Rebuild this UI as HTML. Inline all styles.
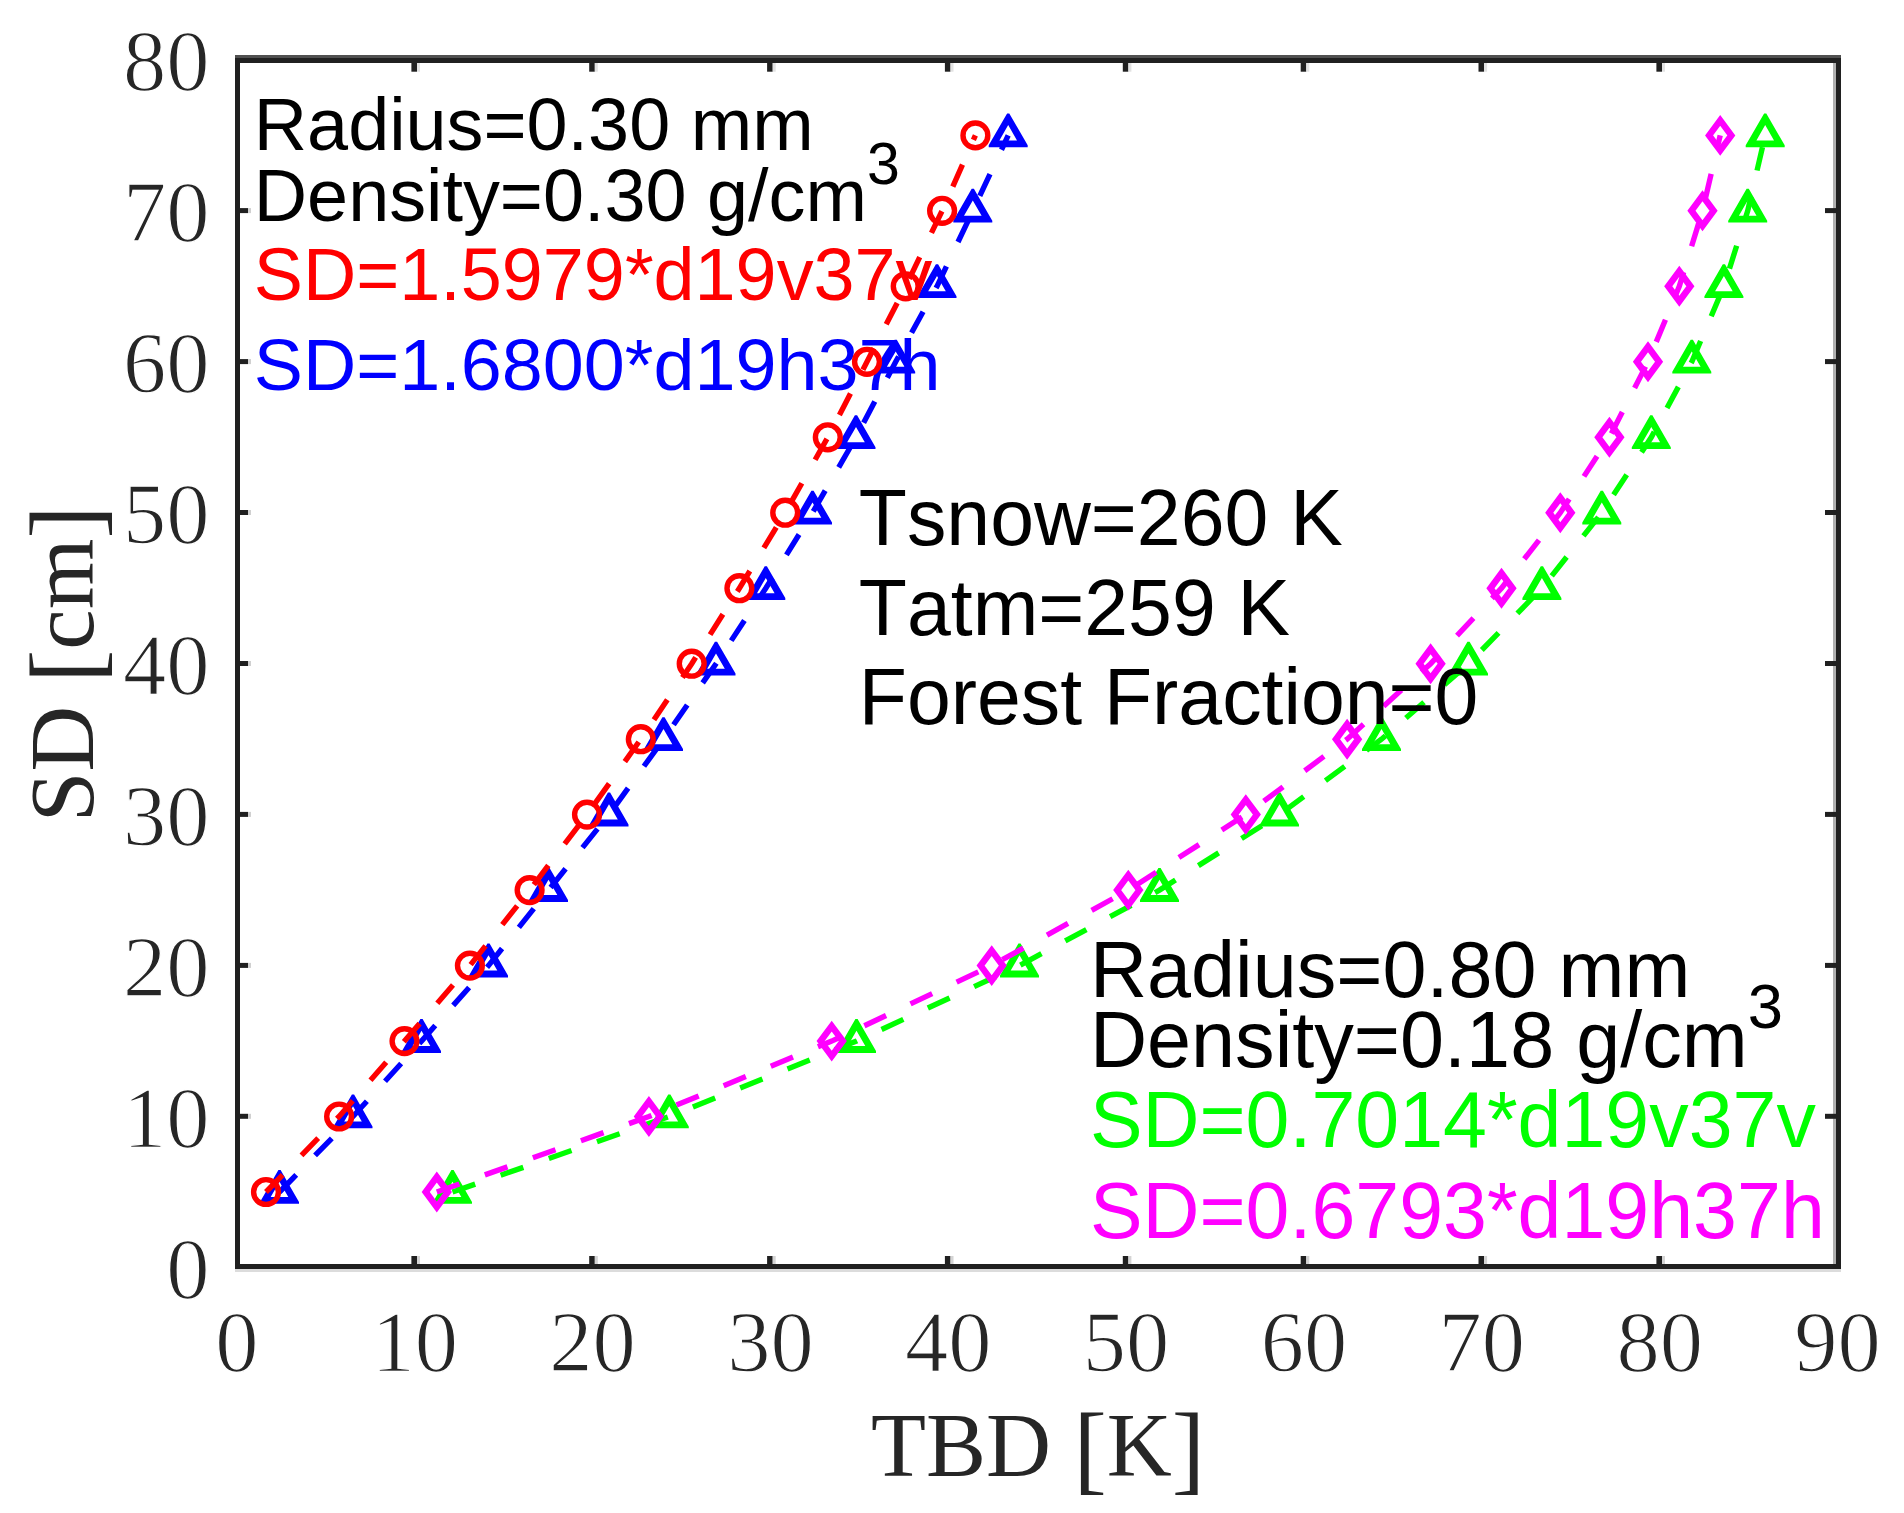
<!DOCTYPE html>
<html lang="en"><head><meta charset="utf-8"><title>SD vs TBD</title>
<style>html,body{margin:0;padding:0;background:#fff}svg{display:block}.tk{font-family:"Liberation Serif",serif;font-size:86.5px;fill:#262626;font-kerning:none;stroke:#fff;stroke-width:1.3px}.lb{font-family:"Liberation Serif",serif;font-size:91.67px;fill:#262626;font-kerning:none}.a{font-family:"Liberation Sans",sans-serif;font-kerning:none}</style></head><body>
<svg width="1904" height="1513" viewBox="0 0 1904 1513">
<rect x="0" y="0" width="1904" height="1513" fill="#ffffff"/>
<g id="series-blue">
<polyline points="279.5,1192.0 353.0,1116.5 421.5,1041.1 488.5,965.6 548.5,890.1 609.0,814.6 663.5,739.2 716.0,663.7 765.8,588.2 812.5,512.7 856.0,437.3 895.7,361.8 937.0,286.3 972.8,210.8 1008.2,135.4" fill="none" stroke="#0000ff" stroke-width="5.4" stroke-dasharray="24 27"/>
<path d="M278.4 1170.0 L280.6 1170.0 L299.0 1201.9 L299.0 1203.8 L260.0 1203.8 L260.0 1201.9 Z M279.5 1181.7 L288.3 1197.0 L270.7 1197.0 Z" fill="#0000ff" fill-rule="evenodd"/>
<path d="M351.9 1094.5 L354.1 1094.5 L372.5 1126.5 L372.5 1128.3 L333.5 1128.3 L333.5 1126.5 Z M353.0 1106.2 L361.8 1121.5 L344.2 1121.5 Z" fill="#0000ff" fill-rule="evenodd"/>
<path d="M420.4 1019.1 L422.6 1019.1 L441.0 1051.0 L441.0 1052.9 L402.0 1052.9 L402.0 1051.0 Z M421.5 1030.8 L430.3 1046.1 L412.7 1046.1 Z" fill="#0000ff" fill-rule="evenodd"/>
<path d="M487.4 943.6 L489.6 943.6 L508.0 975.5 L508.0 977.4 L469.0 977.4 L469.0 975.5 Z M488.5 955.3 L497.3 970.6 L479.7 970.6 Z" fill="#0000ff" fill-rule="evenodd"/>
<path d="M547.4 868.1 L549.6 868.1 L568.0 900.0 L568.0 901.9 L529.0 901.9 L529.0 900.0 Z M548.5 879.8 L557.3 895.1 L539.7 895.1 Z" fill="#0000ff" fill-rule="evenodd"/>
<path d="M607.9 792.6 L610.1 792.6 L628.5 824.5 L628.5 826.4 L589.5 826.4 L589.5 824.5 Z M609.0 804.3 L617.8 819.6 L600.2 819.6 Z" fill="#0000ff" fill-rule="evenodd"/>
<path d="M662.4 717.2 L664.6 717.2 L683.0 749.1 L683.0 751.0 L644.0 751.0 L644.0 749.1 Z M663.5 728.9 L672.3 744.2 L654.7 744.2 Z" fill="#0000ff" fill-rule="evenodd"/>
<path d="M714.9 641.7 L717.1 641.7 L735.5 673.6 L735.5 675.5 L696.5 675.5 L696.5 673.6 Z M716.0 653.4 L724.8 668.7 L707.2 668.7 Z" fill="#0000ff" fill-rule="evenodd"/>
<path d="M764.7 566.2 L766.9 566.2 L785.3 598.1 L785.3 600.0 L746.3 600.0 L746.3 598.1 Z M765.8 577.9 L774.6 593.2 L757.0 593.2 Z" fill="#0000ff" fill-rule="evenodd"/>
<path d="M811.4 490.7 L813.6 490.7 L832.0 522.6 L832.0 524.5 L793.0 524.5 L793.0 522.6 Z M812.5 502.4 L821.3 517.7 L803.7 517.7 Z" fill="#0000ff" fill-rule="evenodd"/>
<path d="M854.9 415.3 L857.1 415.3 L875.5 447.2 L875.5 449.1 L836.5 449.1 L836.5 447.2 Z M856.0 427.0 L864.8 442.3 L847.2 442.3 Z" fill="#0000ff" fill-rule="evenodd"/>
<path d="M894.6 339.8 L896.8 339.8 L915.2 371.7 L915.2 373.6 L876.2 373.6 L876.2 371.7 Z M895.7 351.5 L904.5 366.8 L886.9 366.8 Z" fill="#0000ff" fill-rule="evenodd"/>
<path d="M935.9 264.3 L938.1 264.3 L956.5 296.2 L956.5 298.1 L917.5 298.1 L917.5 296.2 Z M937.0 276.0 L945.8 291.3 L928.2 291.3 Z" fill="#0000ff" fill-rule="evenodd"/>
<path d="M971.7 188.8 L973.9 188.8 L992.3 220.7 L992.3 222.6 L953.3 222.6 L953.3 220.7 Z M972.8 200.5 L981.6 215.8 L964.0 215.8 Z" fill="#0000ff" fill-rule="evenodd"/>
<path d="M1007.1 113.4 L1009.3 113.4 L1027.7 145.3 L1027.7 147.2 L988.7 147.2 L988.7 145.3 Z M1008.2 125.1 L1017.0 140.4 L999.4 140.4 Z" fill="#0000ff" fill-rule="evenodd"/>
</g>
<g id="series-green">
<polyline points="452.5,1192.0 669.3,1116.5 856.5,1041.1 1019.5,965.6 1159.5,890.1 1279.5,814.6 1381.5,739.2 1468.5,663.7 1541.9,588.2 1601.8,512.7 1651.3,437.3 1691.8,361.8 1723.9,286.3 1747.7,210.8 1765.2,135.4" fill="none" stroke="#00ff00" stroke-width="5.4" stroke-dasharray="24 27"/>
<path d="M451.4 1170.0 L453.6 1170.0 L472.0 1201.9 L472.0 1203.8 L433.0 1203.8 L433.0 1201.9 Z M452.5 1181.7 L461.3 1197.0 L443.7 1197.0 Z" fill="#00ff00" fill-rule="evenodd"/>
<path d="M668.2 1094.5 L670.4 1094.5 L688.8 1126.5 L688.8 1128.3 L649.8 1128.3 L649.8 1126.5 Z M669.3 1106.2 L678.1 1121.5 L660.5 1121.5 Z" fill="#00ff00" fill-rule="evenodd"/>
<path d="M855.4 1019.1 L857.6 1019.1 L876.0 1051.0 L876.0 1052.9 L837.0 1052.9 L837.0 1051.0 Z M856.5 1030.8 L865.3 1046.1 L847.7 1046.1 Z" fill="#00ff00" fill-rule="evenodd"/>
<path d="M1018.4 943.6 L1020.6 943.6 L1039.0 975.5 L1039.0 977.4 L1000.0 977.4 L1000.0 975.5 Z M1019.5 955.3 L1028.3 970.6 L1010.7 970.6 Z" fill="#00ff00" fill-rule="evenodd"/>
<path d="M1158.4 868.1 L1160.6 868.1 L1179.0 900.0 L1179.0 901.9 L1140.0 901.9 L1140.0 900.0 Z M1159.5 879.8 L1168.3 895.1 L1150.7 895.1 Z" fill="#00ff00" fill-rule="evenodd"/>
<path d="M1278.4 792.6 L1280.6 792.6 L1299.0 824.5 L1299.0 826.4 L1260.0 826.4 L1260.0 824.5 Z M1279.5 804.3 L1288.3 819.6 L1270.7 819.6 Z" fill="#00ff00" fill-rule="evenodd"/>
<path d="M1380.4 717.2 L1382.6 717.2 L1401.0 749.1 L1401.0 751.0 L1362.0 751.0 L1362.0 749.1 Z M1381.5 728.9 L1390.3 744.2 L1372.7 744.2 Z" fill="#00ff00" fill-rule="evenodd"/>
<path d="M1467.4 641.7 L1469.6 641.7 L1488.0 673.6 L1488.0 675.5 L1449.0 675.5 L1449.0 673.6 Z M1468.5 653.4 L1477.3 668.7 L1459.7 668.7 Z" fill="#00ff00" fill-rule="evenodd"/>
<path d="M1540.8 566.2 L1543.0 566.2 L1561.4 598.1 L1561.4 600.0 L1522.4 600.0 L1522.4 598.1 Z M1541.9 577.9 L1550.7 593.2 L1533.1 593.2 Z" fill="#00ff00" fill-rule="evenodd"/>
<path d="M1600.7 490.7 L1602.9 490.7 L1621.3 522.6 L1621.3 524.5 L1582.3 524.5 L1582.3 522.6 Z M1601.8 502.4 L1610.6 517.7 L1593.0 517.7 Z" fill="#00ff00" fill-rule="evenodd"/>
<path d="M1650.2 415.3 L1652.4 415.3 L1670.8 447.2 L1670.8 449.1 L1631.8 449.1 L1631.8 447.2 Z M1651.3 427.0 L1660.1 442.3 L1642.5 442.3 Z" fill="#00ff00" fill-rule="evenodd"/>
<path d="M1690.7 339.8 L1692.9 339.8 L1711.3 371.7 L1711.3 373.6 L1672.3 373.6 L1672.3 371.7 Z M1691.8 351.5 L1700.6 366.8 L1683.0 366.8 Z" fill="#00ff00" fill-rule="evenodd"/>
<path d="M1722.8 264.3 L1725.0 264.3 L1743.4 296.2 L1743.4 298.1 L1704.4 298.1 L1704.4 296.2 Z M1723.9 276.0 L1732.7 291.3 L1715.1 291.3 Z" fill="#00ff00" fill-rule="evenodd"/>
<path d="M1746.6 188.8 L1748.8 188.8 L1767.2 220.7 L1767.2 222.6 L1728.2 222.6 L1728.2 220.7 Z M1747.7 200.5 L1756.5 215.8 L1738.9 215.8 Z" fill="#00ff00" fill-rule="evenodd"/>
<path d="M1764.1 113.4 L1766.3 113.4 L1784.7 145.3 L1784.7 147.2 L1745.7 147.2 L1745.7 145.3 Z M1765.2 125.1 L1774.0 140.4 L1756.4 140.4 Z" fill="#00ff00" fill-rule="evenodd"/>
</g>
<g id="series-magenta">
<polyline points="436.8,1192.0 648.9,1116.5 831.7,1041.1 991.7,965.6 1128.3,890.1 1245.8,814.6 1347.1,739.2 1430.6,663.7 1501.5,588.2 1560.3,512.7 1609.4,437.3 1648.0,361.8 1679.3,286.3 1702.5,210.8 1720.2,135.4" fill="none" stroke="#ff00ff" stroke-width="5.4" stroke-dasharray="24 27"/>
<polygon points="436.8,1177.0 447.9,1192.0 436.8,1207.0 425.7,1192.0" fill="none" stroke="#ff00ff" stroke-width="6.5" stroke-linejoin="miter"/>
<polygon points="648.9,1101.5 660.0,1116.5 648.9,1131.5 637.8,1116.5" fill="none" stroke="#ff00ff" stroke-width="6.5" stroke-linejoin="miter"/>
<polygon points="831.7,1026.1 842.8,1041.1 831.7,1056.1 820.6,1041.1" fill="none" stroke="#ff00ff" stroke-width="6.5" stroke-linejoin="miter"/>
<polygon points="991.7,950.6 1002.8,965.6 991.7,980.6 980.6,965.6" fill="none" stroke="#ff00ff" stroke-width="6.5" stroke-linejoin="miter"/>
<polygon points="1128.3,875.1 1139.4,890.1 1128.3,905.1 1117.2,890.1" fill="none" stroke="#ff00ff" stroke-width="6.5" stroke-linejoin="miter"/>
<polygon points="1245.8,799.6 1256.9,814.6 1245.8,829.6 1234.7,814.6" fill="none" stroke="#ff00ff" stroke-width="6.5" stroke-linejoin="miter"/>
<polygon points="1347.1,724.2 1358.2,739.2 1347.1,754.2 1336.0,739.2" fill="none" stroke="#ff00ff" stroke-width="6.5" stroke-linejoin="miter"/>
<polygon points="1430.6,648.7 1441.7,663.7 1430.6,678.7 1419.5,663.7" fill="none" stroke="#ff00ff" stroke-width="6.5" stroke-linejoin="miter"/>
<polygon points="1501.5,573.2 1512.6,588.2 1501.5,603.2 1490.4,588.2" fill="none" stroke="#ff00ff" stroke-width="6.5" stroke-linejoin="miter"/>
<polygon points="1560.3,497.7 1571.4,512.7 1560.3,527.7 1549.2,512.7" fill="none" stroke="#ff00ff" stroke-width="6.5" stroke-linejoin="miter"/>
<polygon points="1609.4,422.3 1620.5,437.3 1609.4,452.3 1598.3,437.3" fill="none" stroke="#ff00ff" stroke-width="6.5" stroke-linejoin="miter"/>
<polygon points="1648.0,346.8 1659.1,361.8 1648.0,376.8 1636.9,361.8" fill="none" stroke="#ff00ff" stroke-width="6.5" stroke-linejoin="miter"/>
<polygon points="1679.3,271.3 1690.4,286.3 1679.3,301.3 1668.2,286.3" fill="none" stroke="#ff00ff" stroke-width="6.5" stroke-linejoin="miter"/>
<polygon points="1702.5,195.8 1713.6,210.8 1702.5,225.8 1691.4,210.8" fill="none" stroke="#ff00ff" stroke-width="6.5" stroke-linejoin="miter"/>
<polygon points="1720.2,120.4 1731.3,135.4 1720.2,150.4 1709.1,135.4" fill="none" stroke="#ff00ff" stroke-width="6.5" stroke-linejoin="miter"/>
</g>
<text class="a" transform="translate(253.8 149.7) scale(0.9840 1)" font-size="75.00" fill="#000">Radius=0.30 mm</text>
<text class="a" transform="translate(253.8 220.8) scale(0.9840 1)" font-size="75.00" fill="#000">Density=0.30 g/cm<tspan font-size="60.00" dy="-36.5">3</tspan></text>
<text class="a" transform="translate(253.8 389.6) scale(1.0172 1)" font-size="72.50" fill="#0000ff">SD=1.6800*d19h37h</text>
<g id="series-red">
<polyline points="266.0,1192.0 339.1,1116.5 404.5,1041.1 469.9,965.6 529.6,890.1 587.0,814.6 640.8,739.2 691.7,663.7 739.4,588.2 785.2,512.7 827.8,437.3 867.0,361.8 905.7,286.3 942.1,210.8 975.4,135.4" fill="none" stroke="#ff0000" stroke-width="5.4" stroke-dasharray="24 27"/>
<circle cx="266.0" cy="1192.0" r="12.4" fill="none" stroke="#ff0000" stroke-width="5.4"/>
<circle cx="339.1" cy="1116.5" r="12.4" fill="none" stroke="#ff0000" stroke-width="5.4"/>
<circle cx="404.5" cy="1041.1" r="12.4" fill="none" stroke="#ff0000" stroke-width="5.4"/>
<circle cx="469.9" cy="965.6" r="12.4" fill="none" stroke="#ff0000" stroke-width="5.4"/>
<circle cx="529.6" cy="890.1" r="12.4" fill="none" stroke="#ff0000" stroke-width="5.4"/>
<circle cx="587.0" cy="814.6" r="12.4" fill="none" stroke="#ff0000" stroke-width="5.4"/>
<circle cx="640.8" cy="739.2" r="12.4" fill="none" stroke="#ff0000" stroke-width="5.4"/>
<circle cx="691.7" cy="663.7" r="12.4" fill="none" stroke="#ff0000" stroke-width="5.4"/>
<circle cx="739.4" cy="588.2" r="12.4" fill="none" stroke="#ff0000" stroke-width="5.4"/>
<circle cx="785.2" cy="512.7" r="12.4" fill="none" stroke="#ff0000" stroke-width="5.4"/>
<circle cx="827.8" cy="437.3" r="12.4" fill="none" stroke="#ff0000" stroke-width="5.4"/>
<circle cx="867.0" cy="361.8" r="12.4" fill="none" stroke="#ff0000" stroke-width="5.4"/>
<circle cx="905.7" cy="286.3" r="12.4" fill="none" stroke="#ff0000" stroke-width="5.4"/>
<circle cx="942.1" cy="210.8" r="12.4" fill="none" stroke="#ff0000" stroke-width="5.4"/>
<circle cx="975.4" cy="135.4" r="12.4" fill="none" stroke="#ff0000" stroke-width="5.4"/>
</g>
<text class="a" transform="translate(253.8 299.5) scale(1.0000 1)" font-size="73.75" fill="#ff0000">SD=1.5979*d19v37v</text>
<text class="a" transform="translate(858.8 544.6) scale(0.9899 1)" font-size="79.60" fill="#000">Tsnow=260 K</text>
<text class="a" transform="translate(858.8 634.9) scale(0.9899 1)" font-size="79.60" fill="#000">Tatm=259 K</text>
<text class="a" transform="translate(858.8 724.2) scale(0.9899 1)" font-size="79.60" fill="#000">Forest Fraction=0</text>
<text class="a" transform="translate(1089.9 996.7) scale(0.9946 1)" font-size="79.60" fill="#000">Radius=0.80 mm</text>
<text class="a" transform="translate(1089.9 1067.2) scale(0.9946 1)" font-size="79.60" fill="#000">Density=0.18 g/cm<tspan font-size="63.68" dy="-39">3</tspan></text>
<text class="a" transform="translate(1089.9 1147.0) scale(0.9912 1)" font-size="79.60" fill="#00ff00">SD=0.7014*d19v37v</text>
<text class="a" transform="translate(1089.9 1238.2) scale(0.9912 1)" font-size="79.60" fill="#ff00ff">SD=0.6793*d19h37h</text>
<g id="axes">
<rect x="235" y="55" width="1606" height="3" fill="#505050"/>
<rect x="1833" y="63" width="3" height="1201" fill="#b0b0b0"/>
<rect x="235" y="1269" width="1606" height="3" fill="#dcdcdc"/>
<rect x="235" y="58" width="1606" height="5" fill="#202020"/>
<rect x="235" y="1264" width="1606" height="5" fill="#202020"/>
<rect x="235" y="58" width="5" height="1211" fill="#202020"/>
<rect x="1836" y="58" width="5" height="1211" fill="#202020"/>
<rect x="411.4" y="1256" width="5.6" height="8" fill="#202020"/>
<rect x="417.0" y="1256" width="3" height="8" fill="#d4d4d4"/>
<rect x="411.4" y="63" width="5.6" height="8.7" fill="#202020"/>
<rect x="417.0" y="63" width="3" height="8.7" fill="#e2e2e2"/>
<rect x="589.2" y="1256" width="5.6" height="8" fill="#202020"/>
<rect x="594.8" y="1256" width="3" height="8" fill="#d4d4d4"/>
<rect x="589.2" y="63" width="5.6" height="8.7" fill="#202020"/>
<rect x="594.8" y="63" width="3" height="8.7" fill="#e2e2e2"/>
<rect x="767.1" y="1256" width="5.6" height="8" fill="#202020"/>
<rect x="772.7" y="1256" width="3" height="8" fill="#d4d4d4"/>
<rect x="767.1" y="63" width="5.6" height="8.7" fill="#202020"/>
<rect x="772.7" y="63" width="3" height="8.7" fill="#e2e2e2"/>
<rect x="944.9" y="1256" width="5.6" height="8" fill="#202020"/>
<rect x="950.5" y="1256" width="3" height="8" fill="#d4d4d4"/>
<rect x="944.9" y="63" width="5.6" height="8.7" fill="#202020"/>
<rect x="950.5" y="63" width="3" height="8.7" fill="#e2e2e2"/>
<rect x="1122.8" y="1256" width="5.6" height="8" fill="#202020"/>
<rect x="1128.4" y="1256" width="3" height="8" fill="#d4d4d4"/>
<rect x="1122.8" y="63" width="5.6" height="8.7" fill="#202020"/>
<rect x="1128.4" y="63" width="3" height="8.7" fill="#e2e2e2"/>
<rect x="1300.7" y="1256" width="5.6" height="8" fill="#202020"/>
<rect x="1306.3" y="1256" width="3" height="8" fill="#d4d4d4"/>
<rect x="1300.7" y="63" width="5.6" height="8.7" fill="#202020"/>
<rect x="1306.3" y="63" width="3" height="8.7" fill="#e2e2e2"/>
<rect x="1478.5" y="1256" width="5.6" height="8" fill="#202020"/>
<rect x="1484.1" y="1256" width="3" height="8" fill="#d4d4d4"/>
<rect x="1478.5" y="63" width="5.6" height="8.7" fill="#202020"/>
<rect x="1484.1" y="63" width="3" height="8.7" fill="#e2e2e2"/>
<rect x="1656.4" y="1256" width="5.6" height="8" fill="#202020"/>
<rect x="1662.0" y="1256" width="3" height="8" fill="#d4d4d4"/>
<rect x="1656.4" y="63" width="5.6" height="8.7" fill="#202020"/>
<rect x="1662.0" y="63" width="3" height="8.7" fill="#e2e2e2"/>
<rect x="240" y="1113.8" width="8" height="5" fill="#202020"/>
<rect x="248" y="1113.8" width="3" height="5" fill="#d0d0d0"/>
<rect x="1825" y="1113.8" width="8" height="5" fill="#202020"/>
<rect x="1833" y="1113.8" width="3" height="5" fill="#202020"/>
<rect x="240" y="962.9" width="8" height="5" fill="#202020"/>
<rect x="248" y="962.9" width="3" height="5" fill="#d0d0d0"/>
<rect x="1825" y="962.9" width="8" height="5" fill="#202020"/>
<rect x="1833" y="962.9" width="3" height="5" fill="#202020"/>
<rect x="240" y="811.9" width="8" height="5" fill="#202020"/>
<rect x="248" y="811.9" width="3" height="5" fill="#d0d0d0"/>
<rect x="1825" y="811.9" width="8" height="5" fill="#202020"/>
<rect x="1833" y="811.9" width="3" height="5" fill="#202020"/>
<rect x="240" y="661.0" width="8" height="5" fill="#202020"/>
<rect x="248" y="661.0" width="3" height="5" fill="#d0d0d0"/>
<rect x="1825" y="661.0" width="8" height="5" fill="#202020"/>
<rect x="1833" y="661.0" width="3" height="5" fill="#202020"/>
<rect x="240" y="510.0" width="8" height="5" fill="#202020"/>
<rect x="248" y="510.0" width="3" height="5" fill="#d0d0d0"/>
<rect x="1825" y="510.0" width="8" height="5" fill="#202020"/>
<rect x="1833" y="510.0" width="3" height="5" fill="#202020"/>
<rect x="240" y="359.1" width="8" height="5" fill="#202020"/>
<rect x="248" y="359.1" width="3" height="5" fill="#d0d0d0"/>
<rect x="1825" y="359.1" width="8" height="5" fill="#202020"/>
<rect x="1833" y="359.1" width="3" height="5" fill="#202020"/>
<rect x="240" y="208.1" width="8" height="5" fill="#202020"/>
<rect x="248" y="208.1" width="3" height="5" fill="#d0d0d0"/>
<rect x="1825" y="208.1" width="8" height="5" fill="#202020"/>
<rect x="1833" y="208.1" width="3" height="5" fill="#202020"/>
</g>
<text class="tk" x="236.8" y="1371.3" text-anchor="middle">0</text>
<text class="tk" x="414.7" y="1371.3" text-anchor="middle">10</text>
<text class="tk" x="592.5" y="1371.3" text-anchor="middle">20</text>
<text class="tk" x="770.4" y="1371.3" text-anchor="middle">30</text>
<text class="tk" x="948.2" y="1371.3" text-anchor="middle">40</text>
<text class="tk" x="1126.1" y="1371.3" text-anchor="middle">50</text>
<text class="tk" x="1304.0" y="1371.3" text-anchor="middle">60</text>
<text class="tk" x="1481.8" y="1371.3" text-anchor="middle">70</text>
<text class="tk" x="1659.7" y="1371.3" text-anchor="middle">80</text>
<text class="tk" x="1837.5" y="1371.3" text-anchor="middle">90</text>
<text class="tk" x="209.5" y="1297.5" text-anchor="end">0</text>
<text class="tk" x="209.5" y="1146.5" text-anchor="end">10</text>
<text class="tk" x="209.5" y="995.6" text-anchor="end">20</text>
<text class="tk" x="209.5" y="844.6" text-anchor="end">30</text>
<text class="tk" x="209.5" y="693.7" text-anchor="end">40</text>
<text class="tk" x="209.5" y="542.7" text-anchor="end">50</text>
<text class="tk" x="209.5" y="391.8" text-anchor="end">60</text>
<text class="tk" x="209.5" y="240.8" text-anchor="end">70</text>
<text class="tk" x="209.5" y="89.9" text-anchor="end">80</text>
<text class="lb" x="1038" y="1475.8" font-size="90" text-anchor="middle" style="font-size:90px">TBD <tspan font-size="100" dy="6.4">[</tspan><tspan dy="-6.4">K</tspan><tspan font-size="100" dy="6.4">]</tspan></text>
<text class="lb" transform="translate(92.8,663.7) rotate(-90)" text-anchor="middle" style="font-size:91px">SD <tspan font-size="100" dy="6.4">[</tspan><tspan dy="-6.4">cm</tspan><tspan font-size="100" dy="6.4">]</tspan></text>
</svg></body></html>
